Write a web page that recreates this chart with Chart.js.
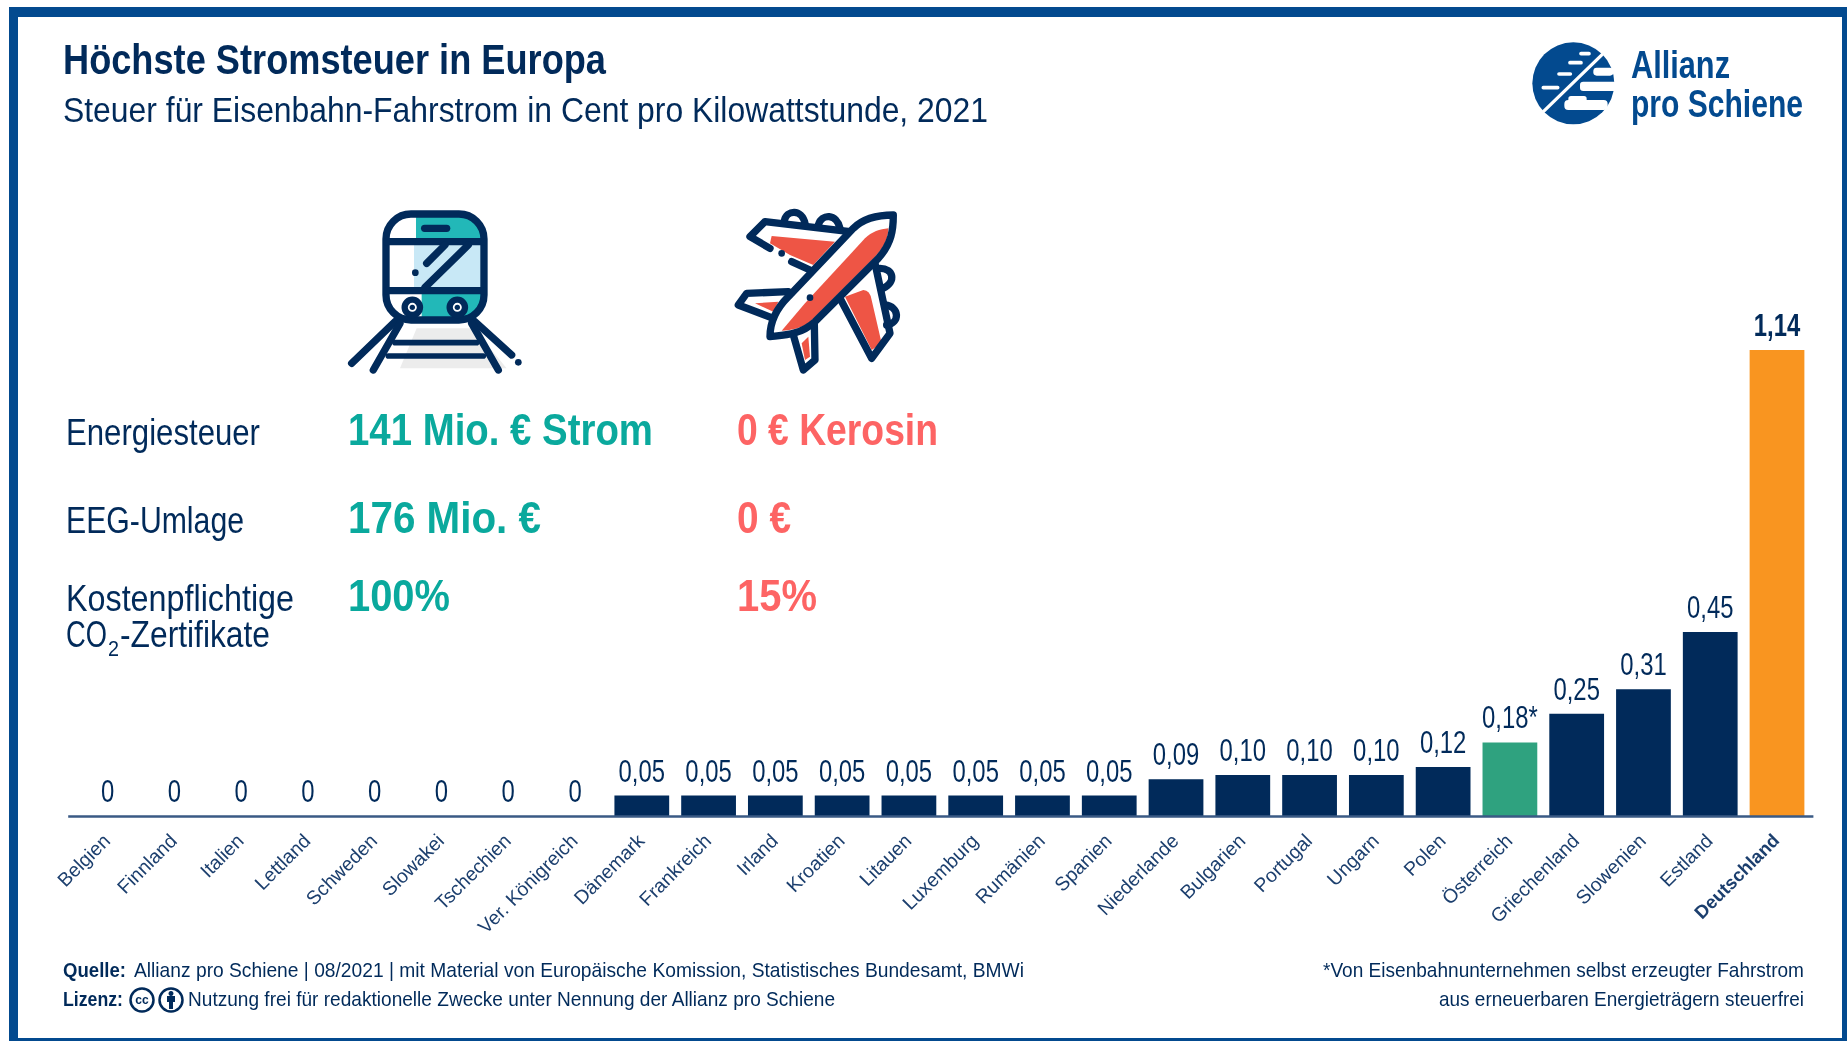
<!DOCTYPE html>
<html lang="de">
<head>
<meta charset="utf-8">
<title>Höchste Stromsteuer in Europa</title>
<script src="https://cdn.jsdelivr.net/npm/chart.js@4"></script>
<style>
  html, body { margin: 0; background: #fff; overflow: hidden; }
  #wrap { position: relative; width: 1847px; height: 1041px; }
  #myChart, #overlay { position: absolute; left: 0; top: 0; }
  #frame {
    position: absolute; left: 9px; top: 7px; width: 1824px; height: 1021px;
    border: solid #034a8f; border-width: 10px 5px 3px 9px;
  }
  text { font-family: "Liberation Sans", sans-serif; fill: #012a5a; }
  .label { font-size: 36px; }
  .big { font-size: 44px; font-weight: 700; }
  .green { fill: #0aa99d; }
  .red { fill: #fd6464; }
  .foot { font-size: 21px; }
  .ink { fill: none; stroke: #012a5a; stroke-width: 22; stroke-linecap: round; stroke-linejoin: round; }
  .logo { font-size: 38px; font-weight: 700; fill: #034a8f; }
</style>
</head>
<body>
<div id="wrap">
  <canvas id="myChart" width="1847" height="1041"></canvas>
  <svg id="overlay" width="1847" height="1041" viewBox="0 0 1847 1041">
    <text x="63" y="74" textLength="543" lengthAdjust="spacingAndGlyphs" style="font-size:42px;font-weight:700">Höchste Stromsteuer in Europa</text>
    <text x="63" y="122" textLength="925" lengthAdjust="spacingAndGlyphs" style="font-size:35px">Steuer für Eisenbahn-Fahrstrom in Cent pro Kilowattstunde, 2021</text>

    <!-- Logo -->
    <g transform="translate(1525,35) scale(0.3333)">
      <circle cx="145" cy="145" r="123" fill="#034a8f"/>
      <g fill="#fff">
        <rect x="205" y="98" width="60" height="24" rx="10"/>
        <rect x="165" y="140" width="112" height="28" rx="10"/>
        <rect x="118" y="195" width="130" height="30" rx="12"/>
        <rect x="130" y="183" width="55" height="20" rx="8"/>
      </g>
      <g stroke="#fff" stroke-linecap="round" fill="none" stroke-width="11">
        <line x1="55" y1="230" x2="232" y2="58" stroke-width="10"/>
        <line x1="55" y1="158" x2="98" y2="158"/>
        <line x1="102" y1="117" x2="136" y2="117"/>
        <line x1="135" y1="83" x2="168" y2="83"/>
        <line x1="168" y1="56" x2="192" y2="56"/>
      </g>
    </g>
    <text class="logo" x="1631" y="78" textLength="99" lengthAdjust="spacingAndGlyphs">Allianz</text>
    <text class="logo" x="1631" y="117" textLength="172" lengthAdjust="spacingAndGlyphs">pro Schiene</text>

    <!-- Zug -->
    <g transform="translate(340,200) scale(0.3333)">
      <defs><clipPath id="body"><rect x="138" y="42" width="294" height="318" rx="75"/></clipPath></defs>
      <path d="M230 385H400L500 505H180Z" fill="#ececec"/>
      <g clip-path="url(#body)">
        <rect x="228" y="42" width="210" height="84" fill="#22b8b8"/>
        <rect x="222" y="130" width="210" height="140" fill="#c8e8f6"/>
        <rect x="245" y="275" width="190" height="85" fill="#22b8b8"/>
      </g>
      <rect class="ink" x="138" y="42" width="294" height="318" rx="75"/>
      <g class="ink">
        <line x1="140" y1="125" x2="430" y2="125"/>
        <line x1="140" y1="272" x2="430" y2="272"/>
        <line x1="254" y1="85" x2="320" y2="85"/>
        <line x1="315" y1="135" x2="260" y2="190"/>
        <line x1="385" y1="135" x2="255" y2="262"/>
        <line x1="165" y1="365" x2="35" y2="490"/>
        <line x1="405" y1="365" x2="515" y2="465"/>
        <line x1="180" y1="370" x2="100" y2="510"/>
        <line x1="395" y1="370" x2="475" y2="510"/>
        <line x1="165" y1="428" x2="410" y2="428" stroke-width="17"/>
        <line x1="145" y1="468" x2="430" y2="468" stroke-width="17"/>
      </g>
      <g fill="#fff" stroke="#012a5a" stroke-width="19">
        <circle cx="217" cy="322" r="23"/>
        <circle cx="352" cy="322" r="23"/>
      </g>
      <g fill="#012a5a">
        <circle cx="217" cy="322" r="8"/>
        <circle cx="352" cy="322" r="8"/>
        <circle cx="226" cy="218" r="10"/>
        <circle cx="535" cy="487" r="10"/>
      </g>
    </g>

    <!-- Flugzeug -->
    <g transform="translate(725,200) scale(0.3333)">
      <g class="ink">
        <path d="M178 62C185 30 230 25 240 70M280 75C290 40 335 40 345 85"/>
        <path d="M465 205C505 205 515 245 475 265M480 315C525 320 525 370 485 375"/>
      </g>
      <path d="M140 108L330 125L265 195L195 165L135 130Z" fill="#ee5545"/>
      <path class="ink" d="M375 95L120 65L75 110L135 145M200 185L255 210"/>
      <circle cx="170" cy="160" r="10" fill="#012a5a"/>
      <path d="M360 290L415 270Q435 270 440 300L470 430L440 450Z" fill="#ee5545"/>
      <path class="ink" d="M450 190L495 400L440 475L345 295"/>
      <path d="M90 310L160 305L145 335Z" fill="#ee5545"/>
      <path class="ink" d="M190 275L65 280L40 315L145 355"/>
      <path d="M230 430L250 410L255 470L240 480Z" fill="#ee5545"/>
      <path class="ink" d="M205 405L235 510L270 480L268 370"/>
      <path d="M385 85C420 50 470 45 505 45C505 90 500 130 460 175L270 365C225 405 180 405 135 410C135 370 150 330 190 290Z" fill="#fff"/>
      <path d="M490 85C490 110 480 140 450 170L255 365C230 385 200 390 170 392L240 310L420 115C440 95 465 88 490 85Z" fill="#ee5545"/>
      <path class="ink" d="M385 85C420 50 470 45 505 45C505 90 500 130 460 175L270 365C225 405 180 405 135 410C135 370 150 330 190 290Z"/>
      <circle cx="255" cy="293" r="10" fill="#012a5a"/>
    </g>

    <!-- Vergleich -->
    <text class="label" x="66" y="445" textLength="194" lengthAdjust="spacingAndGlyphs">Energiesteuer</text>
    <text class="label" x="66" y="533" textLength="178" lengthAdjust="spacingAndGlyphs">EEG-Umlage</text>
    <text class="label" x="66" y="611" textLength="228" lengthAdjust="spacingAndGlyphs">Kostenpflichtige</text>
    <text class="label" x="66" y="647" textLength="41" lengthAdjust="spacingAndGlyphs">CO</text>
    <text x="108" y="656" textLength="11" lengthAdjust="spacingAndGlyphs" style="font-size:22px">2</text>
    <text class="label" x="120" y="647" textLength="150" lengthAdjust="spacingAndGlyphs">-Zertifikate</text>
    <text class="big green" x="348" y="445" textLength="305" lengthAdjust="spacingAndGlyphs">141 Mio. € Strom</text>
    <text class="big green" x="348" y="533" textLength="193" lengthAdjust="spacingAndGlyphs">176 Mio. €</text>
    <text class="big green" x="348" y="611" textLength="102" lengthAdjust="spacingAndGlyphs">100%</text>
    <text class="big red" x="737" y="445" textLength="201" lengthAdjust="spacingAndGlyphs">0 € Kerosin</text>
    <text class="big red" x="737" y="533" textLength="54" lengthAdjust="spacingAndGlyphs">0 €</text>
    <text class="big red" x="737" y="611" textLength="80" lengthAdjust="spacingAndGlyphs">15%</text>

    <!-- Fußzeile -->
    <text class="foot" x="63" y="977" textLength="63" lengthAdjust="spacingAndGlyphs" font-weight="700">Quelle:</text>
    <text class="foot" x="134" y="977" textLength="890" lengthAdjust="spacingAndGlyphs">Allianz pro Schiene | 08/2021 | mit Material von Europäische Komission, Statistisches Bundesamt, BMWi</text>
    <text class="foot" x="63" y="1006" textLength="60" lengthAdjust="spacingAndGlyphs" font-weight="700">Lizenz:</text>
    <g fill="none" stroke="#012a5a" stroke-width="2.5">
      <circle cx="142" cy="1000" r="11.5"/>
      <circle cx="171" cy="1000" r="11.5"/>
    </g>
    <text x="142" y="1004" text-anchor="middle" style="font-size:12px;font-weight:700">cc</text>
    <path d="M171 991a2.5 2.5 0 1 1-.01 0M167 996h8v6h-2v7h-4v-7h-2Z" fill="#012a5a"/>
    <text class="foot" x="188" y="1006" textLength="647" lengthAdjust="spacingAndGlyphs">Nutzung frei für redaktionelle Zwecke unter Nennung der Allianz pro Schiene</text>
    <text class="foot" x="1323" y="977" textLength="481" lengthAdjust="spacingAndGlyphs">*Von Eisenbahnunternehmen selbst erzeugter Fahrstrom</text>
    <text class="foot" x="1439" y="1006" textLength="365" lengthAdjust="spacingAndGlyphs">aus erneuerbaren Energieträgern steuerfrei</text>
  </svg>
  <div id="frame"></div>
</div>

<script>
const countries = ['Belgien', 'Finnland', 'Italien', 'Lettland', 'Schweden', 'Slowakei', 'Tschechien', 'Ver. Königreich',
  'Dänemark', 'Frankreich', 'Irland', 'Kroatien', 'Litauen', 'Luxemburg', 'Rumänien', 'Spanien',
  'Niederlande', 'Bulgarien', 'Portugal', 'Ungarn', 'Polen', 'Österreich', 'Griechenland', 'Slowenien', 'Estland', 'Deutschland'];
const taxValues = [0, 0, 0, 0, 0, 0, 0, 0,
  0.05, 0.05, 0.05, 0.05, 0.05, 0.05, 0.05, 0.05,
  0.09, 0.10, 0.10, 0.10, 0.12, 0.18, 0.25, 0.31, 0.45, 1.14];
const valueLabels = ['0', '0', '0', '0', '0', '0', '0', '0',
  '0,05', '0,05', '0,05', '0,05', '0,05', '0,05', '0,05', '0,05',
  '0,09', '0,10', '0,10', '0,10', '0,12', '0,18*', '0,25', '0,31', '0,45', '1,14'];
const barColors = countries.map(name => {
  if (name === 'Deutschland') return '#f99520';
  if (name === 'Österreich') return '#2fa27f';
  return '#012a5a';
});

const fontName = '"Liberation Sans", sans-serif';

// Werte ueber den Balken (schmal gezogen) und die etwas laengere Grundlinie
const barText = {
  id: 'barText',
  afterDatasetsDraw(chart) {
    const c = chart.ctx;
    const area = chart.chartArea;
    c.save();
    c.strokeStyle = '#3a5a85';
    c.lineWidth = 2.5;
    c.beginPath();
    c.moveTo(area.left - 6, area.bottom + 0.5);
    c.lineTo(area.right + 3, area.bottom + 0.5);
    c.stroke();
    c.textAlign = 'center';
    c.fillStyle = '#012a5a';
    chart.getDatasetMeta(0).data.forEach((bar, i) => {
      c.save();
      c.font = (i === 25 ? '700 ' : '') + '31px ' + fontName;
      c.translate(bar.x, bar.y - 14);
      c.scale(0.77, 1);
      c.fillText(valueLabels[i], 0, 0);
      c.restore();
    });
    c.restore();
  }
};

new Chart(document.getElementById('myChart').getContext('2d'), {
  type: 'bar',
  data: {
    labels: countries,
    datasets: [{
      data: taxValues,
      backgroundColor: barColors,
      barPercentage: 0.82,
      categoryPercentage: 1
    }]
  },
  options: {
    responsive: false,
    animation: false,
    layout: { padding: { left: 74.2, right: 36.6, top: 325.4, bottom: 0 } },
    plugins: { legend: { display: false }, tooltip: { enabled: false } },
    scales: {
      y: { display: false, min: 0, max: 1.2 },
      x: {
        grid: { display: false, drawTicks: false },
        border: { display: false },
        afterFit(scale) {
          scale.height = 225;
          scale.paddingLeft = 0;
          scale.paddingRight = 0;
        },
        ticks: {
          autoSkip: false,
          minRotation: 45,
          maxRotation: 45,
          padding: 14,
          color: '#1c3f6e',
          font: ctx => ({ family: fontName, size: ctx.index === 25 ? 18.5 : 19.5, weight: ctx.index === 25 ? '700' : '400' })
        }
      }
    }
  },
  plugins: [barText]
});
</script>
</body>
</html>
